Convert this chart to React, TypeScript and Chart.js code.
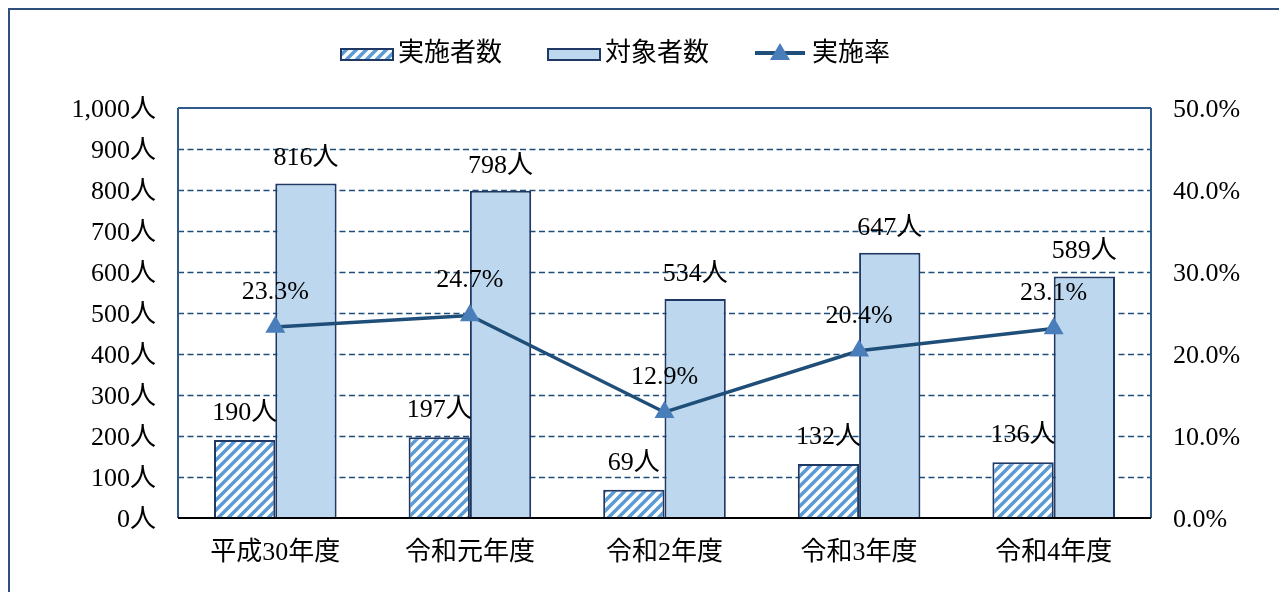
import React, { useEffect, useRef } from "react";
import { Chart, registerables } from "chart.js";

Chart.register(...registerables);

const categories = ["平成30年度", "令和元年度", "令和2年度", "令和3年度", "令和4年度"];
const implemented = [190, 197, 69, 132, 136];
const targets = [816, 798, 534, 647, 589];
const rates = [23.3, 24.7, 12.9, 20.4, 23.1];
const leftTicks = [0, 100, 200, 300, 400, 500, 600, 700, 800, 900, 1000];
const legendLabels = ["実施者数", "対象者数", "実施率"];

const FONT_FAMILY = '"Liberation Serif", "Noto Sans CJK JP", serif';
const FS = 26;
const NAVY = "#203864";
const GRID = "#1F4E79";
const LINE = "#1F4E79";
const MARK = "#4A7EBB";
const STRIPE = "#5B9BD5";
const LIGHT = "#BDD7EE";

function makeHatch(): CanvasPattern | string {
  const c = document.createElement("canvas");
  c.width = 10;
  c.height = 10;
  const g = c.getContext("2d");
  if (!g) return STRIPE;
  g.fillStyle = "#ffffff";
  g.fillRect(0, 0, 10, 10);
  g.strokeStyle = STRIPE;
  g.lineWidth = 3.5;
  g.beginPath();
  g.moveTo(-5, 5); g.lineTo(5, -5);
  g.moveTo(0, 10); g.lineTo(10, 0);
  g.moveTo(5, 15); g.lineTo(15, 5);
  g.stroke();
  const p = g.createPattern(c, "repeat");
  return p || STRIPE;
}

export default function App() {
  const ref = useRef<HTMLCanvasElement | null>(null);

  useEffect(() => {
    if (!ref.current) return;
    const hatch = makeHatch();

    const framePlugin = {
      id: "frame",
      beforeDatasetsDraw(chart: any) {
        const { ctx, chartArea } = chart;
        const y = chart.scales.y;
        ctx.save();
        ctx.strokeStyle = GRID;
        ctx.lineWidth = 1.5;
        ctx.setLineDash([6, 3.5]);
        leftTicks.forEach((v) => {
          if (v === 0 || v === 1000) return;
          const py = Math.round(y.getPixelForValue(v)) + 0.5;
          ctx.beginPath();
          ctx.moveTo(chartArea.left, py);
          ctx.lineTo(chartArea.right, py);
          ctx.stroke();
        });
        ctx.setLineDash([]);
        ctx.strokeStyle = "#2F5A8A";
        ctx.lineWidth = 2;
        const top = y.getPixelForValue(1000);
        ctx.beginPath();
        ctx.moveTo(chartArea.left, top);
        ctx.lineTo(chartArea.right, top);
        ctx.moveTo(chartArea.left, top);
        ctx.lineTo(chartArea.left, chartArea.bottom);
        ctx.moveTo(chartArea.right, top);
        ctx.lineTo(chartArea.right, chartArea.bottom);
        ctx.stroke();
        ctx.restore();
      },
      afterDatasetsDraw(chart: any) {
        const { ctx, chartArea } = chart;
        ctx.save();
        ctx.strokeStyle = "#000000";
        ctx.lineWidth = 2;
        ctx.beginPath();
        ctx.moveTo(chartArea.left, chartArea.bottom);
        ctx.lineTo(chartArea.right, chartArea.bottom);
        ctx.stroke();
        ctx.restore();
      },
      afterDraw(chart: any) {
        const { ctx } = chart;
        ctx.save();
        ctx.strokeStyle = "#2F4F7F";
        ctx.lineWidth = 2;
        ctx.beginPath();
        ctx.moveTo(1, chart.height + 5);
        ctx.lineTo(1, 1);
        ctx.lineTo(chart.width + 5, 1);
        ctx.stroke();

        ctx.font = FS + "px " + FONT_FAMILY;
        ctx.fillStyle = "#000000";
        ctx.textBaseline = "middle";
        ctx.textAlign = "left";
        const ly = 46;
        ctx.fillStyle = hatch as any;
        ctx.fillRect(333, 41, 52, 11);
        ctx.strokeStyle = NAVY;
        ctx.lineWidth = 2;
        ctx.strokeRect(333, 41, 52, 11);
        ctx.fillStyle = "#000000";
        ctx.fillText(legendLabels[0], 390, ly);
        ctx.fillStyle = LIGHT;
        ctx.fillRect(540, 41, 52, 11);
        ctx.strokeRect(540, 41, 52, 11);
        ctx.fillStyle = "#000000";
        ctx.fillText(legendLabels[1], 597, ly);
        ctx.strokeStyle = LINE;
        ctx.lineWidth = 4;
        ctx.beginPath();
        ctx.moveTo(747, 45);
        ctx.lineTo(797, 45);
        ctx.stroke();
        ctx.fillStyle = MARK;
        ctx.beginPath();
        ctx.moveTo(772, 35);
        ctx.lineTo(782, 52);
        ctx.lineTo(762, 52);
        ctx.closePath();
        ctx.fill();
        ctx.fillStyle = "#000000";
        ctx.fillText(legendLabels[2], 804, ly);

        ctx.textAlign = "center";
        const m0 = chart.getDatasetMeta(0);
        const m1 = chart.getDatasetMeta(1);
        const m2 = chart.getDatasetMeta(2);
        m0.data.forEach((el: any, i: number) => {
          ctx.fillText(implemented[i] + "人", el.x, el.y - 27);
        });
        m1.data.forEach((el: any, i: number) => {
          ctx.fillText(targets[i] + "人", el.x, el.y - 25);
        });
        m2.data.forEach((el: any, i: number) => {
          ctx.fillText(rates[i].toFixed(1) + "%", el.x, el.y - 35);
        });
        ctx.restore();
      },
    };

    const chart = new Chart(ref.current, {
      type: "bar",
      data: {
        labels: categories,
        datasets: [
          {
            type: "bar",
            label: legendLabels[0],
            data: implemented,
            backgroundColor: hatch as any,
            borderColor: NAVY,
            borderWidth: 2,
            categoryPercentage: 0.63,
            barPercentage: 1,
            yAxisID: "y",
            order: 1,
          },
          {
            type: "bar",
            label: legendLabels[1],
            data: targets,
            backgroundColor: LIGHT,
            borderColor: NAVY,
            borderWidth: 2,
            categoryPercentage: 0.63,
            barPercentage: 1,
            yAxisID: "y",
            order: 1,
          },
          {
            type: "line",
            label: legendLabels[2],
            data: rates,
            borderColor: LINE,
            borderWidth: 3.5,
            pointStyle: "triangle",
            pointRadius: 11.5,
            pointBackgroundColor: MARK,
            pointBorderColor: MARK,
            pointBorderWidth: 0,
            yAxisID: "y1",
            order: 0,
          } as any,
        ],
      },
      options: {
        responsive: false,
        animation: false,
        layout: { padding: { top: 100, left: 0, right: 0, bottom: 0 } },
        plugins: {
          legend: { display: false },
          tooltip: { enabled: false },
          title: { display: false },
        },
        scales: {
          x: {
            grid: { display: false, drawTicks: false },
            border: { display: false },
            ticks: {
              color: "#000000",
              font: { family: FONT_FAMILY, size: FS },
              padding: 20,
            },
            afterFit: (s: any) => {
              s.height = 74;
            },
          },
          y: {
            position: "left",
            min: 0,
            max: 1000,
            grid: { display: false, drawTicks: false },
            border: { display: false },
            ticks: {
              stepSize: 100,
              color: "#000000",
              font: { family: FONT_FAMILY, size: FS },
              padding: 22,
              labelOffset: 2,
              callback: (v: any) => Number(v).toLocaleString("en-US") + "人",
            },
            afterFit: (s: any) => {
              s.width = 170;
            },
          },
          y1: {
            position: "right",
            min: 0,
            max: 50,
            grid: { display: false, drawTicks: false },
            border: { display: false },
            ticks: {
              stepSize: 10,
              color: "#000000",
              font: { family: FONT_FAMILY, size: FS },
              padding: 22,
              labelOffset: 2,
              callback: (v: any) => Number(v).toFixed(1) + "%",
            },
            afterFit: (s: any) => {
              s.width = 136;
            },
          },
        },
      },
      plugins: [framePlugin],
    });

    return () => chart.destroy();
  }, []);

  return (
    <div style={{ width: 1279, height: 584 }}>
      <canvas ref={ref} width={1279} height={584} style={{ display: "block" }} />
    </div>
  );
}
